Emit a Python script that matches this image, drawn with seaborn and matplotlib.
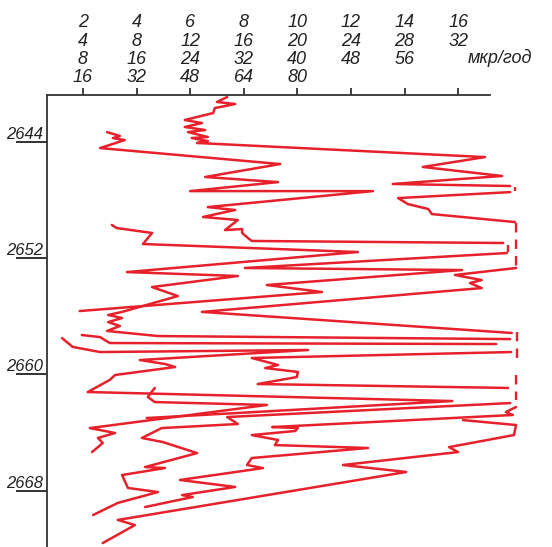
import pandas as pd
import numpy as np
import matplotlib.pyplot as plt
import seaborn as sns

# шкалы (верхняя ось), мкр/год
scale1 = [2, 4, 6, 8, 10, 12, 14, 16]
scale2 = [4, 8, 12, 16, 20, 24, 28, 32]
scale3 = [8, 16, 24, 32, 40, 48, 56]
scale4 = [16, 32, 48, 64, 80]
depth_ticks = [2644, 2652, 2660, 2668]

a_gr = [7.38, 7.00, 7.68, 6.92, 6.86, 5.80, 6.44, 5.80, 6.56, 5.92, 6.66, 6.06, 6.66, 6.26,
        17.00, 14.68, 17.64, 13.56, 17.94]
a_depth = [2640.92, 2641.26, 2641.40, 2641.68, 2642.02, 2642.50, 2642.71, 2642.98, 2643.19, 2643.33,
           2643.67, 2643.74, 2643.95, 2644.08, 2645.05, 2645.73, 2646.35, 2646.90, 2647.04]

b_gr = [17.94, 13.76, 14.12, 14.88, 15.02, 18.12]
b_depth = [2647.46, 2647.87, 2648.28, 2648.62, 2648.97, 2649.52]

c_gr = [2.90, 3.38, 3.12, 3.56, 2.64, 9.36, 6.56, 9.28, 6.00, 12.82, 6.66, 7.68, 6.48, 7.78,
        7.30, 7.94, 7.94, 8.16, 8.30, 17.68]
c_depth = [2643.33, 2643.60, 2643.74, 2643.88, 2644.43, 2645.53, 2646.42, 2646.77, 2647.39, 2647.39,
           2648.49, 2648.69, 2649.17, 2649.38, 2650.07, 2650.00, 2650.27, 2650.62, 2650.82, 2650.96]

d_gr = [17.82, 8.04, 16.14, 8.86, 10.92, 1.88]
d_depth = [2651.65, 2652.68, 2652.82, 2653.85, 2654.33, 2655.64]

e_gr = [3.08, 3.26, 4.58, 4.24, 12.26, 3.64, 7.78, 4.58, 5.54, 3.46, 2.94, 3.46, 2.94, 3.38,
        2.90, 4.80, 17.94]
e_depth = [2649.72, 2649.93, 2650.27, 2651.03, 2651.58, 2652.96, 2653.23, 2653.99, 2654.61, 2655.70,
           2655.91, 2656.12, 2656.40, 2656.67, 2657.01, 2657.36, 2657.57]

f_gr = [18.16, 15.88, 16.88, 16.44, 16.88, 6.44, 18.00]
f_depth = [2652.68, 2653.16, 2653.51, 2653.71, 2654.06, 2655.70, 2657.15]

g_gr = [1.96, 2.64, 3.00, 17.42]
g_depth = [2657.29, 2657.43, 2657.84, 2657.91]

h_gr = [1.22, 1.62, 2.64, 10.40, 4.12, 5.06, 5.44, 3.20, 3.00, 2.18, 15.78, 4.38]
h_depth = [2657.50, 2658.11, 2658.46, 2658.32, 2659.01, 2659.28, 2659.49, 2660.04, 2660.38, 2661.21,
           2661.83, 2663.00]

i_gr = [17.98, 8.30, 9.28, 8.80, 10.02, 9.98, 8.52, 17.86]
i_depth = [2658.46, 2658.87, 2659.35, 2659.56, 2659.83, 2660.18, 2660.66, 2660.93]

j_gr = [4.68, 4.42, 4.68, 8.86, 2.26, 3.20, 2.56, 2.74, 2.34]
j_depth = [2660.93, 2661.55, 2661.90, 2662.10, 2663.69, 2664.03, 2664.37, 2664.72, 2665.34]

k_gr = [17.94, 7.38, 7.78, 4.94, 4.20, 4.98, 6.26, 4.32, 5.06, 3.46, 3.68, 4.80, 3.30, 2.38]
k_depth = [2661.97, 2662.93, 2663.41, 2663.69, 2664.37, 2664.65, 2665.41, 2666.37, 2666.44, 2666.92,
           2667.81, 2668.09, 2668.84, 2669.67]

l_gr = [18.16, 17.78, 18.04, 9.06, 10.02, 9.92, 8.30, 9.28, 9.16, 12.64, 8.30, 8.12, 8.72, 5.62,
        7.68, 5.70, 6.10, 4.32]
l_depth = [2662.24, 2662.59, 2662.79, 2663.62, 2663.69, 2663.89, 2664.17, 2664.51, 2664.86, 2665.06,
           2665.75, 2666.23, 2666.44, 2667.26, 2667.74, 2668.30, 2668.43, 2669.12]

m_gr = [16.18, 18.16, 18.08, 15.66, 16.00, 11.70, 14.06, 3.30, 3.94, 2.74]
m_depth = [2663.14, 2663.48, 2664.17, 2665.00, 2665.34, 2666.23, 2666.71, 2670.01, 2670.36, 2671.60]

# пунктир у правого края (зашкал)
dash_gr = [18.12, 18.16, 17.86, 18.20, 18.16]
dash_top = [2647.11, 2649.59, 2651.10, 2657.10, 2660.04]
dash_bottom = [2647.39, 2652.68, 2651.58, 2659.01, 2661.76]

pieces = [(a_gr, a_depth), (b_gr, b_depth), (c_gr, c_depth), (d_gr, d_depth), (e_gr, e_depth),
          (f_gr, f_depth), (g_gr, g_depth), (h_gr, h_depth), (i_gr, i_depth), (j_gr, j_depth),
          (k_gr, k_depth), (l_gr, l_depth), (m_gr, m_depth)]
df = pd.concat([pd.DataFrame({'gr': g, 'depth': d, 'seg': n}) for n, (g, d) in enumerate(pieces)],
               ignore_index=True)

sns.set_style('white')
plt.rcParams['font.family'] = ['Liberation Sans', 'DejaVu Sans']

red = '#e6212b'
fig = plt.figure(figsize=(5.52, 5.47), dpi=100)
ax = fig.add_axes([47 / 552, 0, 483 / 552, 452 / 547])

sns.lineplot(data=df, x='gr', y='depth', units='seg', estimator=None, sort=False,
             color=red, linewidth=1.8, ax=ax, legend=False)
for ln in ax.lines:
    ln.set_solid_joinstyle('round')
    ln.set_solid_capstyle('round')
ax.vlines(dash_gr, dash_top, dash_bottom, colors=red, linestyles=(0, (4, 3)), linewidth=1.7)

ax.set_xlim(0.66, 18.68)
ax.set_ylim(2671.87, 2640.78)

# верхняя ось с четырьмя шкалами
labels = []
for n in range(len(scale1)):
    col = [scale1[n], scale2[n]]
    if n < len(scale3):
        col.append(scale3[n])
    if n < len(scale4):
        col.append(scale4[n])
    labels.append('\n'.join(str(v) for v in col))

ax.xaxis.tick_top()
ax.set_xticks(scale1)
ax.set_xticklabels(labels, fontstyle='italic', fontsize=13, va='top', ha='center',
                   multialignment='center', linespacing=1.1)
ax.tick_params(axis='x', top=True, direction='out', length=5, width=1.2, pad=53, colors='#222222')

ax.set_yticks(depth_ticks)
ax.set_yticklabels([str(d) for d in depth_ticks], fontstyle='italic', fontsize=12,
                   va='bottom', ha='right')
ax.tick_params(axis='y', left=True, direction='out', length=22, width=1.3, pad=-19, colors='#222222')

ax.set_xlabel('')
ax.set_ylabel('')
for side in ['right', 'bottom']:
    ax.spines[side].set_visible(False)
ax.spines['top'].set_bounds(0.66, 17.2)
ax.spines['top'].set_linewidth(1.3)
ax.spines['left'].set_linewidth(1.3)
ax.spines['top'].set_color('#333333')
ax.spines['left'].set_color('#333333')

ax.text(0.938, 1.082, 'мкр/год', transform=ax.transAxes, ha='center', va='center',
        fontsize=13, fontstyle='italic', color='#222222')

fig.savefig('out.png', dpi=100)
